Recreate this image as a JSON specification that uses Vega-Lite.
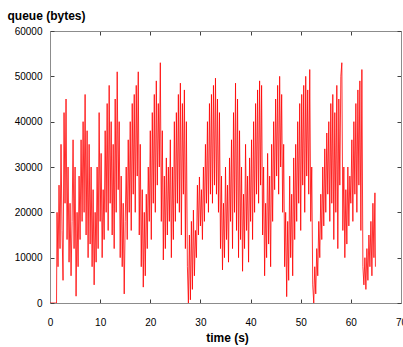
{
  "$schema": "https://vega.github.io/schema/vega-lite/v6.json",
  "width": 351,
  "height": 272,
  "autosize": "none",
  "padding": {"left": 50, "top": 31, "right": 2, "bottom": 44},
  "background": "#ffffff",
  "data": {"values": [
    {"t":0,"q":0},{"t":1.3,"q":0},
    {"t":1.4,"q":20000},{"t":1.6,"q":8000},{"t":1.8,"q":26000},{"t":2.0,"q":12000},{"t":2.2,"q":35000},{"t":2.4,"q":16000},{"t":2.6,"q":5000},{"t":2.8,"q":42000},
    {"t":3.0,"q":22000},{"t":3.2,"q":45000},{"t":3.4,"q":14000},{"t":3.6,"q":30000},{"t":3.8,"q":9000},{"t":4.0,"q":22000},{"t":4.2,"q":6000},{"t":4.4,"q":18000},{"t":4.6,"q":36000},{"t":4.8,"q":12000},
    {"t":5.0,"q":30000},{"t":5.2,"q":1500},{"t":5.4,"q":20000},{"t":5.6,"q":8000},{"t":5.8,"q":28000},{"t":6.0,"q":14000},{"t":6.2,"q":36000},{"t":6.4,"q":18000},{"t":6.6,"q":40000},{"t":6.8,"q":20000},
    {"t":7.0,"q":46000},{"t":7.2,"q":15000},{"t":7.4,"q":38000},{"t":7.6,"q":10000},{"t":7.8,"q":35000},{"t":8.0,"q":13000},{"t":8.2,"q":30000},{"t":8.4,"q":8000},{"t":8.6,"q":25000},{"t":8.8,"q":4000},
    {"t":9.0,"q":20000},{"t":9.2,"q":9000},{"t":9.4,"q":30000},{"t":9.6,"q":12000},{"t":9.8,"q":42000},{"t":10.0,"q":18000},{"t":10.2,"q":33000},{"t":10.4,"q":10000},{"t":10.6,"q":25000},{"t":10.8,"q":14000},
    {"t":11.0,"q":38000},{"t":11.2,"q":20000},{"t":11.4,"q":44000},{"t":11.6,"q":16000},{"t":11.8,"q":48000},{"t":12.0,"q":22000},{"t":12.2,"q":40000},{"t":12.4,"q":15000},{"t":12.6,"q":35000},{"t":12.8,"q":12000},
    {"t":13.0,"q":45000},{"t":13.2,"q":20000},{"t":13.4,"q":51000},{"t":13.6,"q":25000},{"t":13.8,"q":40000},{"t":14.0,"q":10000},{"t":14.2,"q":28000},{"t":14.4,"q":8000},{"t":14.6,"q":22000},{"t":14.8,"q":2000},
    {"t":15.0,"q":18000},{"t":15.2,"q":30000},{"t":15.4,"q":14000},{"t":15.6,"q":36000},{"t":15.8,"q":20000},{"t":16.0,"q":40000},{"t":16.2,"q":16000},{"t":16.4,"q":44000},{"t":16.6,"q":24000},{"t":16.8,"q":46000},
    {"t":17.0,"q":20000},{"t":17.2,"q":48000},{"t":17.4,"q":28000},{"t":17.6,"q":51000},{"t":17.8,"q":15000},{"t":18.0,"q":35000},{"t":18.2,"q":8000},{"t":18.4,"q":25000},{"t":18.6,"q":3500},{"t":18.8,"q":20000},
    {"t":19.0,"q":6000},{"t":19.2,"q":24000},{"t":19.4,"q":12000},{"t":19.6,"q":30000},{"t":19.8,"q":18000},{"t":20.0,"q":38000},{"t":20.2,"q":14000},{"t":20.4,"q":42000},{"t":20.6,"q":22000},{"t":20.8,"q":46000},
    {"t":21.0,"q":20000},{"t":21.2,"q":49000},{"t":21.4,"q":26000},{"t":21.6,"q":44000},{"t":21.8,"q":30000},{"t":22.0,"q":53000},{"t":22.2,"q":18000},{"t":22.4,"q":38000},{"t":22.6,"q":9500},{"t":22.8,"q":28000},
    {"t":23.0,"q":12000},{"t":23.2,"q":32000},{"t":23.4,"q":15000},{"t":23.6,"q":30000},{"t":23.8,"q":18000},{"t":24.0,"q":36000},{"t":24.2,"q":10000},{"t":24.4,"q":30000},{"t":24.6,"q":14000},{"t":24.8,"q":40000},
    {"t":25.0,"q":18000},{"t":25.2,"q":42000},{"t":25.4,"q":22000},{"t":25.6,"q":46000},{"t":25.8,"q":20000},{"t":26.0,"q":48500},{"t":26.2,"q":15000},{"t":26.4,"q":44000},{"t":26.6,"q":24000},{"t":26.8,"q":47000},
    {"t":27.0,"q":12000},{"t":27.2,"q":40000},{"t":27.4,"q":8000},{"t":27.6,"q":0},{"t":27.8,"q":15000},{"t":28.0,"q":700},{"t":28.2,"q":18000},{"t":28.4,"q":3000},{"t":28.6,"q":20500},{"t":28.8,"q":6000},
    {"t":29.0,"q":16000},{"t":29.2,"q":10000},{"t":29.4,"q":26000},{"t":29.6,"q":15000},{"t":29.8,"q":27800},{"t":30.0,"q":17000},{"t":30.2,"q":25000},{"t":30.4,"q":14000},{"t":30.6,"q":30000},{"t":30.8,"q":18000},
    {"t":31.0,"q":35000},{"t":31.2,"q":22000},{"t":31.4,"q":40000},{"t":31.6,"q":20000},{"t":31.8,"q":44000},{"t":32.0,"q":24000},{"t":32.2,"q":46000},{"t":32.4,"q":22000},{"t":32.6,"q":48000},{"t":32.8,"q":26000},
    {"t":33.0,"q":49600},{"t":33.2,"q":24000},{"t":33.4,"q":45000},{"t":33.6,"q":20000},{"t":33.8,"q":42000},{"t":34.0,"q":12000},{"t":34.2,"q":28000},{"t":34.4,"q":7300},{"t":34.6,"q":22000},{"t":34.8,"q":10000},
    {"t":35.0,"q":30000},{"t":35.2,"q":14000},{"t":35.4,"q":26000},{"t":35.6,"q":9000},{"t":35.8,"q":32000},{"t":36.0,"q":18000},{"t":36.2,"q":36000},{"t":36.4,"q":12000},{"t":36.6,"q":42000},{"t":36.8,"q":20000},
    {"t":37.0,"q":48500},{"t":37.2,"q":16000},{"t":37.4,"q":45000},{"t":37.6,"q":10000},{"t":37.8,"q":38000},{"t":38.0,"q":14000},{"t":38.2,"q":30000},{"t":38.4,"q":7000},{"t":38.6,"q":24000},{"t":38.8,"q":12000},
    {"t":39.0,"q":35000},{"t":39.2,"q":16000},{"t":39.4,"q":28000},{"t":39.6,"q":9000},{"t":39.8,"q":32000},{"t":40.0,"q":18000},{"t":40.2,"q":36000},{"t":40.4,"q":14000},{"t":40.6,"q":40000},{"t":40.8,"q":20000},
    {"t":41.0,"q":44000},{"t":41.2,"q":24000},{"t":41.4,"q":47000},{"t":41.6,"q":22000},{"t":41.8,"q":49000},{"t":42.0,"q":26000},{"t":42.2,"q":48000},{"t":42.4,"q":15000},{"t":42.6,"q":30000},{"t":42.8,"q":6000},
    {"t":43.0,"q":22000},{"t":43.2,"q":10000},{"t":43.4,"q":33000},{"t":43.6,"q":13000},{"t":43.8,"q":28000},{"t":44.0,"q":8000},{"t":44.2,"q":35000},{"t":44.4,"q":18000},{"t":44.6,"q":40000},{"t":44.8,"q":25000},
    {"t":45.0,"q":45000},{"t":45.2,"q":28000},{"t":45.4,"q":48000},{"t":45.6,"q":24000},{"t":45.8,"q":50000},{"t":46.0,"q":30000},{"t":46.2,"q":46000},{"t":46.4,"q":20000},{"t":46.6,"q":35000},{"t":46.8,"q":8000},
    {"t":47.0,"q":20000},{"t":47.2,"q":1400},{"t":47.4,"q":18000},{"t":47.6,"q":5000},{"t":47.8,"q":28000},{"t":48.0,"q":10000},{"t":48.2,"q":24000},{"t":48.4,"q":6000},{"t":48.6,"q":32000},{"t":48.8,"q":14000},
    {"t":49.0,"q":35000},{"t":49.2,"q":18000},{"t":49.4,"q":40000},{"t":49.6,"q":22000},{"t":49.8,"q":44000},{"t":50.0,"q":16000},{"t":50.2,"q":46000},{"t":50.4,"q":26000},{"t":50.6,"q":48000},{"t":50.8,"q":20000},
    {"t":51.0,"q":50000},{"t":51.2,"q":28000},{"t":51.4,"q":47000},{"t":51.6,"q":24000},{"t":51.8,"q":51500},{"t":52.0,"q":18000},{"t":52.2,"q":30000},{"t":52.4,"q":4000},{"t":52.6,"q":0},{"t":52.8,"q":8000},
    {"t":53.0,"q":2000},{"t":53.2,"q":12000},{"t":53.4,"q":6000},{"t":53.6,"q":18000},{"t":53.8,"q":10000},{"t":54.0,"q":24000},{"t":54.2,"q":14000},{"t":54.4,"q":30000},{"t":54.6,"q":17000},{"t":54.8,"q":34000},
    {"t":55.0,"q":20000},{"t":55.2,"q":37500},{"t":55.4,"q":24000},{"t":55.6,"q":40000},{"t":55.8,"q":18000},{"t":56.0,"q":44000},{"t":56.2,"q":22000},{"t":56.4,"q":46000},{"t":56.6,"q":14000},{"t":56.8,"q":42000},
    {"t":57.0,"q":20000},{"t":57.2,"q":48000},{"t":57.4,"q":12000},{"t":57.6,"q":45000},{"t":57.8,"q":26000},{"t":58.0,"q":50000},{"t":58.2,"q":53000},{"t":58.4,"q":16000},{"t":58.6,"q":30000},{"t":58.8,"q":10000},
    {"t":59.0,"q":25000},{"t":59.2,"q":13000},{"t":59.4,"q":30000},{"t":59.6,"q":17000},{"t":59.8,"q":28000},{"t":60.0,"q":22000},{"t":60.2,"q":36000},{"t":60.4,"q":18000},{"t":60.6,"q":40000},{"t":60.8,"q":24000},
    {"t":61.0,"q":44000},{"t":61.2,"q":20000},{"t":61.4,"q":47000},{"t":61.6,"q":26000},{"t":61.8,"q":49000},{"t":62.0,"q":16000},{"t":62.2,"q":51500},{"t":62.4,"q":8000},{"t":62.6,"q":4000},{"t":62.8,"q":10000},
    {"t":63.0,"q":3000},{"t":63.2,"q":12000},{"t":63.4,"q":5000},{"t":63.6,"q":15000},{"t":63.8,"q":8000},{"t":64.0,"q":18000},{"t":64.2,"q":6000},{"t":64.4,"q":22000},{"t":64.6,"q":10000},{"t":64.8,"q":24300},{"t":64.9,"q":8000}
  ]},
  "layer": [
    {
      "mark": {"type": "line", "color": "#ff0000", "strokeWidth": 0.8, "strokeJoin": "bevel", "clip": true},
      "encoding": {
        "x": {"field": "t", "type": "quantitative", "scale": {"domain": [0, 70], "nice": false},
          "axis": {"orient": "bottom", "values": [0,10,20,30,40,50,60,70], "labelFlush": false, "labelOverlap": false,
            "labelPadding": 18, "title": "time (s)", "titleFontSize": 12, "titleFontWeight": "bold",
            "titleBaseline": "alphabetic", "titleY": 38, "titleX": 177}},
        "y": {"field": "q", "type": "quantitative", "scale": {"domain": [0, 60000], "nice": false},
          "axis": {"orient": "left", "values": [0,10000,20000,30000,40000,50000,60000], "labelFlush": false, "labelOverlap": false,
            "labelPadding": 12, "format": "d", "title": "queue (bytes)", "titleFontSize": 12, "titleFontWeight": "bold",
            "titleAngle": 0, "titleAlign": "left", "titleBaseline": "alphabetic", "titleX": -43, "titleY": -12}}
      }
    },
    {
      "mark": {"type": "line", "opacity": 0},
      "encoding": {
        "x": {"field": "t", "type": "quantitative", "scale": {"domain": [0, 70], "nice": false},
          "axis": {"orient": "top", "values": [0,10,20,30,40,50,60,70], "labels": false, "title": null}},
        "y": {"field": "q", "type": "quantitative", "scale": {"domain": [0, 60000], "nice": false},
          "axis": {"orient": "right", "values": [0,10000,20000,30000,40000,50000,60000], "labels": false, "title": null}}
      }
    }
  ],
  "resolve": {"axis": {"x": "independent", "y": "independent"}},
  "config": {
    "view": {"stroke": null},
    "axis": {
      "grid": false,
      "domainColor": "#8c8c8c",
      "tickColor": "#404040",
      "tickSize": -4,
      "labelFont": "Liberation Sans",
      "labelFontSize": 10,
      "labelColor": "#000000",
      "titleFont": "Liberation Sans",
      "titleColor": "#000000"
    }
  }
}
